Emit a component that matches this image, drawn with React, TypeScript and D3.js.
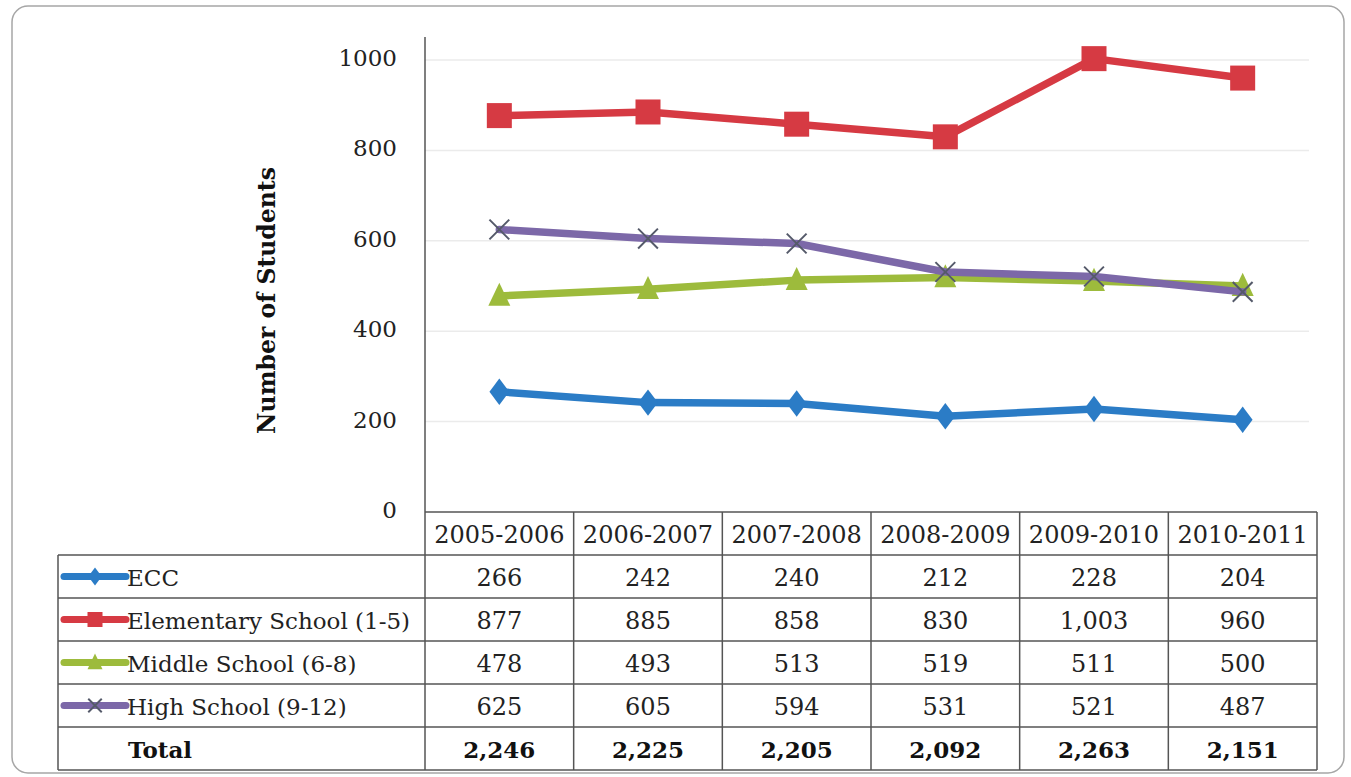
import React, { useRef, useEffect } from 'react';
import * as d3 from 'd3';

const years = ['2005-2006', '2006-2007', '2007-2008', '2008-2009', '2009-2010', '2010-2011'];
const seriesNames = ['ECC', 'Elementary School (1-5)', 'Middle School (6-8)', 'High School (9-12)'];
const ecc = [266, 242, 240, 212, 228, 204];
const elementary = [877, 885, 858, 830, 1003, 960];
const middle = [478, 493, 513, 519, 511, 500];
const high = [625, 605, 594, 531, 521, 487];
const totals = [2246, 2225, 2205, 2092, 2263, 2151];
const yTicks = [0, 200, 400, 600, 800, 1000];
const colors = ['#2b7cc6', '#d63a43', '#9dbb3c', '#7c68a8'];
const markers = ['diamond', 'square', 'triangle', 'x'];

const W = 1351;
const H = 777;
const FONT = '"DejaVu Serif", "Liberation Serif", serif';

const App: React.FC = () => {
  const svgRef = useRef<SVGSVGElement>(null);

  useEffect(() => {
    if (!svgRef.current) return;
    const svg = d3.select(svgRef.current);
    svg.selectAll('*').remove();

    const values = [ecc, elementary, middle, high];
    const plotLeft = 425;
    const plotRight = 1317;
    const plotTop = 37;
    const tableLeft = 58;
    const rowH = 43;

    const x = d3.scaleBand<string>().domain(years).range([plotLeft, plotRight]);
    const y = d3.scaleLinear().domain([0, 1000]).range([512, 60]);
    const tableTop = y(0);
    const cx = (yr: string) => (x(yr) as number) + x.bandwidth() / 2;

    // outer frame
    svg.append('rect')
      .attr('x', 12).attr('y', 6)
      .attr('width', 1332).attr('height', 767)
      .attr('rx', 16)
      .attr('fill', '#fff')
      .attr('stroke', '#a6a6a6')
      .attr('stroke-width', 1.5);

    // gridlines
    svg.append('g')
      .selectAll('line')
      .data(yTicks.filter(t => t > 0))
      .enter()
      .append('line')
      .attr('x1', plotLeft).attr('x2', plotRight - 8)
      .attr('y1', d => y(d)).attr('y2', d => y(d))
      .attr('stroke', '#ebebeb')
      .attr('stroke-width', 1.5);

    // y tick labels
    svg.append('g')
      .selectAll('text')
      .data(yTicks)
      .enter()
      .append('text')
      .attr('x', 397)
      .attr('y', d => y(d) - 2)
      .attr('text-anchor', 'end')
      .attr('dominant-baseline', 'central')
      .attr('font-family', FONT)
      .attr('font-size', 23)
      .attr('fill', '#222')
      .text(d => d.toString());

    // y axis title
    svg.append('text')
      .attr('transform', `translate(267, ${(168 + 433) / 2}) rotate(-90)`)
      .attr('text-anchor', 'middle')
      .attr('dominant-baseline', 'central')
      .attr('font-family', FONT)
      .attr('font-weight', 'bold')
      .attr('font-size', 23.5)
      .attr('fill', '#111')
      .text('Number of Students');

    // table grid
    const table = svg.append('g').attr('stroke', '#555').attr('stroke-width', 1.5).attr('fill', 'none');
    const nRows = seriesNames.length + 1;
    const tableBottom = tableTop + rowH * (nRows + 1);
    // vertical axis / left of data columns
    table.append('line').attr('x1', plotLeft).attr('x2', plotLeft).attr('y1', plotTop).attr('y2', tableBottom);
    // column separators
    years.forEach(yr => {
      const xr = (x(yr) as number) + x.bandwidth();
      table.append('line').attr('x1', xr).attr('x2', xr).attr('y1', tableTop).attr('y2', tableBottom);
    });
    // header top
    table.append('line').attr('x1', plotLeft).attr('x2', plotRight).attr('y1', tableTop).attr('y2', tableTop);
    // row lines
    d3.range(nRows + 1).forEach(i => {
      const yy = tableTop + rowH * (i + 1);
      table.append('line').attr('x1', tableLeft).attr('x2', plotRight).attr('y1', yy).attr('y2', yy);
    });
    table.append('line').attr('x1', tableLeft).attr('x2', tableLeft)
      .attr('y1', tableTop + rowH).attr('y2', tableBottom);

    // header labels
    svg.append('g')
      .selectAll('text')
      .data(years)
      .enter()
      .append('text')
      .attr('x', d => cx(d))
      .attr('y', tableTop + rowH / 2 + 1)
      .attr('text-anchor', 'middle')
      .attr('dominant-baseline', 'central')
      .attr('font-family', FONT)
      .attr('font-size', 24)
      .attr('fill', '#222')
      .text(d => d);

    const fmt = d3.format(',');

    const drawMarker = (g: d3.Selection<SVGGElement, unknown, null, undefined>, kind: string, color: string, px: number, py: number, s: number) => {
      if (kind === 'diamond') {
        g.append('path')
          .attr('d', `M${px},${py - s * 0.6}L${px + s * 0.45},${py}L${px},${py + s * 0.6}L${px - s * 0.45},${py}Z`)
          .attr('fill', color);
      } else if (kind === 'square') {
        g.append('rect')
          .attr('x', px - s / 2).attr('y', py - s / 2)
          .attr('width', s).attr('height', s)
          .attr('fill', color);
      } else if (kind === 'triangle') {
        g.append('path')
          .attr('d', `M${px},${py - s * 0.6}L${px + s * 0.5},${py + s * 0.45}L${px - s * 0.5},${py + s * 0.45}Z`)
          .attr('fill', color);
      } else {
        const h = s * 0.45;
        g.append('path')
          .attr('d', `M${px - h},${py - h}L${px + h},${py + h}M${px - h},${py + h}L${px + h},${py - h}`)
          .attr('stroke', '#555a6a')
          .attr('stroke-width', 2)
          .attr('fill', 'none');
      }
    };

    // series lines
    const line = d3.line<number>()
      .x((d, i) => cx(years[i]))
      .y(d => y(d));

    values.forEach((vals, si) => {
      const g = svg.append('g');
      g.append('path')
        .datum(vals)
        .attr('d', line)
        .attr('fill', 'none')
        .attr('stroke', colors[si])
        .attr('stroke-width', 7.5)
        .attr('stroke-linejoin', 'round')
        .attr('stroke-linecap', 'round');
      vals.forEach((v, i) => drawMarker(g, markers[si], colors[si], cx(years[i]), y(v), si === 1 ? 25 : 22));
    });

    // table rows
    seriesNames.forEach((name, si) => {
      const rowMid = tableTop + rowH * (si + 1) + rowH / 2;
      const g = svg.append('g');
      g.append('line')
        .attr('x1', 64).attr('x2', 126)
        .attr('y1', rowMid).attr('y2', rowMid)
        .attr('stroke', colors[si])
        .attr('stroke-width', 7)
        .attr('stroke-linecap', 'round');
      drawMarker(g, markers[si], colors[si], 95, rowMid, 15);
      g.append('text')
        .attr('x', 127)
        .attr('y', rowMid + 1)
        .attr('dominant-baseline', 'central')
        .attr('font-family', FONT)
        .attr('font-size', 23)
        .attr('fill', '#222')
        .text(name);
      g.selectAll('text.v')
        .data(values[si])
        .enter()
        .append('text')
        .attr('class', 'v')
        .attr('x', (d, i) => cx(years[i]))
        .attr('y', rowMid + 1)
        .attr('text-anchor', 'middle')
        .attr('dominant-baseline', 'central')
        .attr('font-family', FONT)
        .attr('font-size', 24)
        .attr('fill', '#222')
        .text(d => fmt(d));
    });

    // total row
    const totalMid = tableTop + rowH * (nRows) + rowH / 2;
    svg.append('text')
      .attr('x', 128)
      .attr('y', totalMid + 1)
      .attr('dominant-baseline', 'central')
      .attr('font-family', FONT)
      .attr('font-weight', 'bold')
      .attr('font-size', 23)
      .attr('fill', '#111')
      .text('Total');
    svg.append('g')
      .selectAll('text')
      .data(totals)
      .enter()
      .append('text')
      .attr('x', (d, i) => cx(years[i]))
      .attr('y', totalMid + 1)
      .attr('text-anchor', 'middle')
      .attr('dominant-baseline', 'central')
      .attr('font-family', FONT)
      .attr('font-weight', 'bold')
      .attr('font-size', 23)
      .attr('fill', '#111')
      .text(d => fmt(d));
  }, []);

  return (
    <svg ref={svgRef} width={W} height={H} style={{ position: 'absolute', left: 0, top: 0, background: '#fff' }} />
  );
};

export default App;
